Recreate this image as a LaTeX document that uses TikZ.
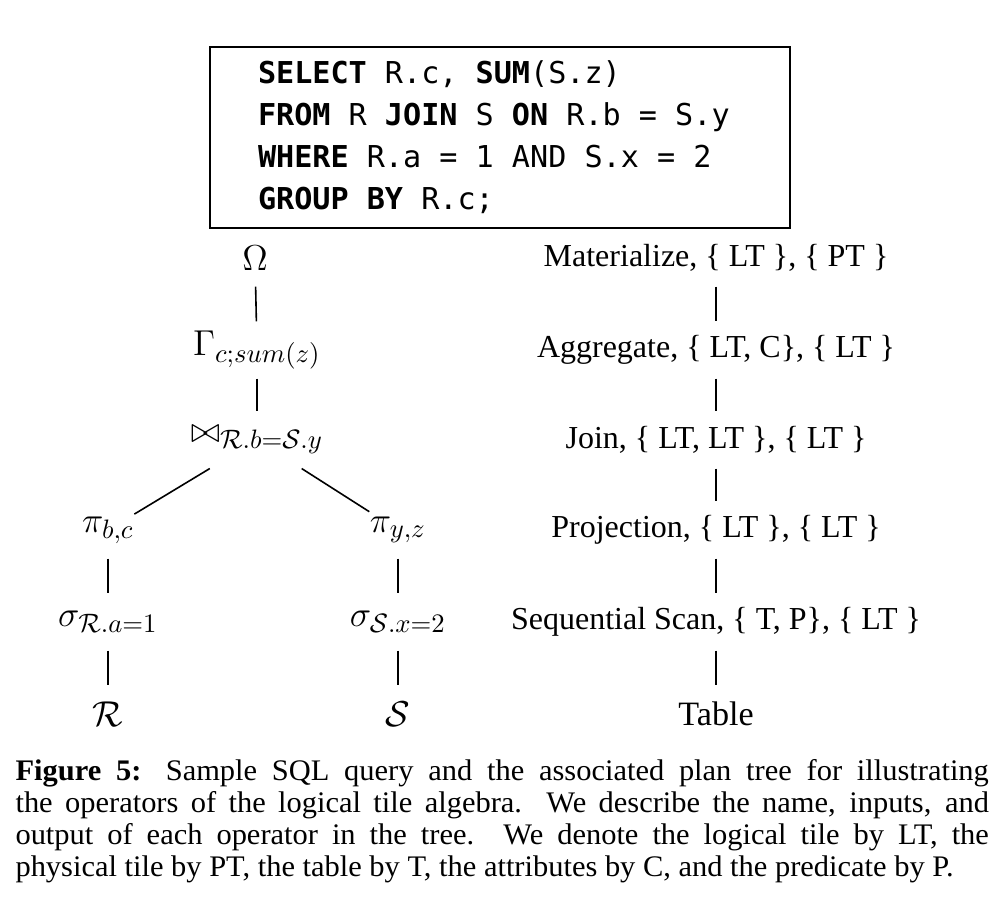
\RequirePackage{fix-cm}
\documentclass[tikz,border=0pt]{standalone}
\usepackage[no-math]{fontspec}
\setmainfont{Liberation Serif}
\newfontfamily\sqlfont{DejaVu Sans Mono}
\newfontfamily\capfont[FakeStretch=1.02]{Liberation Serif}
\usetikzlibrary{positioning}

\DeclareMathSizes{13.5}{13.5}{10}{8}
\newcommand{\kw}[1]{\textbf{#1}}
\newcommand{\sqlspaces}{\spaceskip=0.602em\relax\xspaceskip=0.602em\relax}

\tikzset{
	op/.style={inner sep=0pt, minimum height=21pt, font=\fontsize{13.5}{16}\selectfont},
	desc/.style={inner sep=0pt, minimum height=21pt, font=\fontsize{12}{14}\selectfont},
	edge/.style={line width=0.6pt}
}

\begin{document}
\begin{tikzpicture}[x=0.375pt, y=-0.375pt]
	\useasboundingbox (0,0) rectangle (1008,916);

	% The SQL query
	\node[draw, line width=0.6pt, minimum width=217.5pt, minimum height=67.9pt,
		text width=181.5pt, align=left, inner xsep=18pt,
		font=\sqlfont\fontsize{11.3}{15.75}\selectfont]
		(query) at (500,137.5)
		{\sqlspaces\kw{SELECT} R.c, \kw{SUM}(S.z)\\
		 \kw{FROM} R \kw{JOIN} S \kw{ON} R.b = S.y\\
		 \kw{WHERE} R.a = 1 AND S.x = 2\\
		 \kw{GROUP BY} R.c;};

	% Plan tree
	\node[op] (omega) at (255,258) {$\Omega$};
	\node[op] (gamma) at (257,350) {$\Gamma_{c;sum(z)}$};
	\node[op] (join) at (257,440) {$\bowtie_{\mathcal{R}.b=\mathcal{S}.y}$};
	\node[op] (pibc) at (108,530) {$\pi_{b,c}$};
	\node[op] (piyz) at (398,530) {$\pi_{y,z}$};
	\node[op] (sigr) at (108,622) {$\sigma_{\mathcal{R}.a=1}$};
	\node[op] (sigs) at (398,622) {$\sigma_{\mathcal{S}.x=2}$};
	\node[op] (tabr) at (108,714) {$\mathcal{R}$};
	\node[op] (tabs) at (398,714) {$\mathcal{S}$};

	\draw[edge] (omega) -- (gamma);
	\draw[edge] (gamma) -- (join);
	\draw[edge] (join) -- (pibc);
	\draw[edge] (join) -- (piyz);
	\draw[edge] (pibc) -- (sigr);
	\draw[edge] (piyz) -- (sigs);
	\draw[edge] (sigr) -- (tabr);
	\draw[edge] (sigs) -- (tabs);

	% Name, inputs and output of each operator
	\node[desc] (mat) at (716,258) {Materialize, \{ LT \}, \{ PT \}};
	\node[desc] (agg) at (716,350) {Aggregate, \{ LT, C\}, \{ LT \}};
	\node[desc] (jn) at (716,440) {Join, \{ LT, LT \}, \{ LT \}};
	\node[desc] (proj) at (716,530) {Projection, \{ LT \}, \{ LT \}};
	\node[desc] (scan) at (716,622) {Sequential Scan, \{ T, P\}, \{ LT \}};
	\node[desc, font=\fontsize{12.8}{14}\selectfont] (tab) at (716,714) {Table};

	\draw[edge] (mat) -- (agg);
	\draw[edge] (agg) -- (jn);
	\draw[edge] (jn) -- (proj);
	\draw[edge] (proj) -- (scan);
	\draw[edge] (scan) -- (tab);

	% Caption
	\node[anchor=north west, inner sep=0pt, text width=365pt, align=justify,
		font=\capfont\fontsize{11.2}{12}\selectfont] (caption) at (15,759)
		{\textbf{Figure 5:} Sample SQL query and the associated plan tree for illustrating\linebreak
		the operators of the logical tile algebra. We describe the name, inputs, and\linebreak
		output of each operator in the tree. We denote the logical tile by LT, the\linebreak
		physical tile by PT, the table by T, the attributes by C, and the predicate by P.};
\end{tikzpicture}
\end{document}
